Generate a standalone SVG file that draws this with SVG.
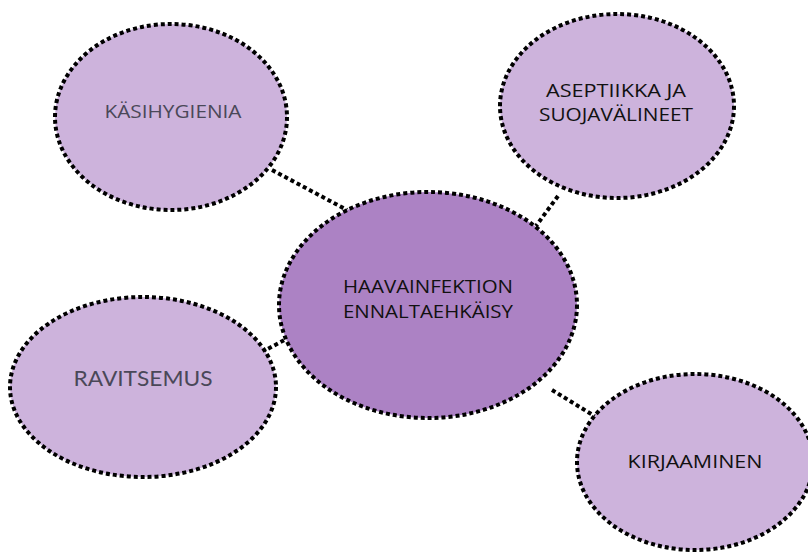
<svg xmlns="http://www.w3.org/2000/svg" width="808" height="555" viewBox="0 0 808 555">
<style>
.bg{fill:#ffffff}
.outer{fill:#cdb3dc;stroke:#000;stroke-width:4;stroke-dasharray:4 3}
.inner{fill:#ac82c4;stroke:#000;stroke-width:4;stroke-dasharray:4 3}
.conn{stroke:#000;stroke-width:4;stroke-dasharray:4 3;fill:none}
.t{font-family:"Open Sans","Liberation Sans",sans-serif;font-size:19px;text-anchor:middle;fill:#111}
.g{font-family:"Open Sans","Liberation Sans",sans-serif;font-size:19px;text-anchor:middle;fill:#4a4858}
.r{font-family:"Lato","Liberation Sans",sans-serif;font-size:21px;text-anchor:middle;fill:#4a4858}
</style>
<rect class="bg" x="0" y="0" width="808" height="555"/>
<g id="connectors">
<line class="conn" x1="272" y1="170" x2="347" y2="210"/>
<line class="conn" x1="558" y1="196" x2="536" y2="226"/>
<line class="conn" x1="262" y1="352" x2="290" y2="337"/>
<line class="conn" x1="552" y1="390" x2="601" y2="420"/>
</g>
<g id="kasihygienia">
<ellipse class="outer" cx="171" cy="117" rx="116" ry="93"/>
<text class="g" x="173" y="118" textLength="137" lengthAdjust="spacingAndGlyphs">KÄSIHYGIENIA</text>
</g>
<g id="aseptiikka">
<ellipse class="outer" cx="617" cy="106" rx="117" ry="92"/>
<text class="t" x="616" y="97" textLength="140" lengthAdjust="spacingAndGlyphs">ASEPTIIKKA JA</text>
<text class="t" x="616" y="121" textLength="154" lengthAdjust="spacingAndGlyphs">SUOJAVÄLINEET</text>
</g>
<g id="center">
<ellipse class="inner" cx="428" cy="305" rx="149" ry="113"/>
<text class="t" x="428" y="293" textLength="170" lengthAdjust="spacingAndGlyphs">HAAVAINFEKTION</text>
<text class="t" x="428" y="318" textLength="170" lengthAdjust="spacingAndGlyphs">ENNALTAEHKÄISY</text>
</g>
<g id="ravitsemus">
<ellipse class="outer" cx="143" cy="387" rx="133" ry="90"/>
<text class="r" x="143" y="386" textLength="139" lengthAdjust="spacingAndGlyphs">RAVITSEMUS</text>
</g>
<g id="kirjaaminen">
<ellipse class="outer" cx="695" cy="462" rx="118" ry="88"/>
<text class="t" x="695" y="468" textLength="135" lengthAdjust="spacingAndGlyphs">KIRJAAMINEN</text>
</g>
</svg>
